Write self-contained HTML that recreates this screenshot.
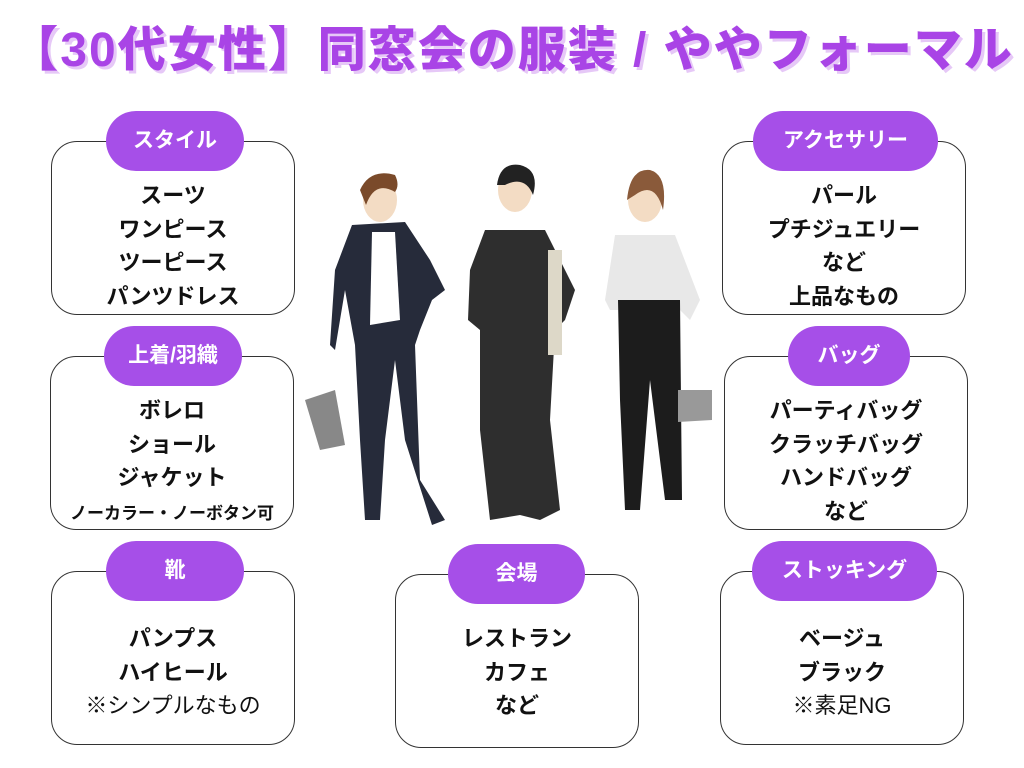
<!DOCTYPE html>
<html><head><meta charset="utf-8"><style>
body{margin:0;width:1024px;height:768px;background:#fff;position:relative;overflow:hidden;font-family:"Liberation Sans","Noto Sans CJK JP",sans-serif}
.t{position:absolute;left:0;width:1024px;top:10px;text-align:center;font-size:48px;font-weight:900;color:#a944e6;text-shadow:3px 3px 0 #e6c8f7;letter-spacing:2px}
.b{position:absolute;width:244px;height:174px;border:1.3px solid #333;border-radius:26px;box-sizing:border-box}
.p{position:absolute;height:60px;border-radius:30px;background:#a64fe8;color:#fff;font-weight:bold;font-size:21px;line-height:60px;text-align:center}
.x{position:absolute;width:244px;text-align:center;font-size:22px;font-weight:bold;line-height:33.5px;color:#111}
.n{font-weight:normal}
</style></head><body>
<div class="t">【30代女性】同窓会の服装 / ややフォーマル</div>

<div class="b" style="left:51px;top:141px"></div><div class="p" style="left:106px;top:111px;width:138px">スタイル</div>
<div class="x" style="left:51px;top:179px">スーツ<br>ワンピース<br>ツーピース<br>パンツドレス</div>

<div class="b" style="left:50px;top:356px"></div><div class="p" style="left:104px;top:326px;width:138px">上着/羽織</div>
<div class="x" style="left:50px;top:394px">ボレロ<br>ショール<br>ジャケット<br><span style="font-size:17px">ノーカラー・ノーボタン可</span></div>

<div class="b" style="left:51px;top:571px"></div><div class="p" style="left:106px;top:541px;width:138px">靴</div>
<div class="x" style="left:51px;top:622px">パンプス<br>ハイヒール<br><span class="n">※シンプルなもの</span></div>

<div class="b" style="left:395px;top:574px"></div><div class="p" style="left:448px;top:544px;width:137px">会場</div>
<div class="x" style="left:395px;top:622px">レストラン<br>カフェ<br>など</div>

<div class="b" style="left:722px;top:141px"></div><div class="p" style="left:753px;top:111px;width:185px">アクセサリー</div>
<div class="x" style="left:722px;top:179px">パール<br>プチジュエリー<br>など<br>上品なもの</div>

<div class="b" style="left:724px;top:356px"></div><div class="p" style="left:788px;top:326px;width:122px">バッグ</div>
<div class="x" style="left:724px;top:394px">パーティバッグ<br>クラッチバッグ<br>ハンドバッグ<br>など</div>

<div class="b" style="left:720px;top:571px"></div><div class="p" style="left:752px;top:541px;width:185px">ストッキング</div>
<div class="x" style="left:720px;top:622px">ベージュ<br>ブラック<br><span class="n">※素足NG</span></div>

<svg style="position:absolute;left:0;top:0" width="1024" height="768">
<ellipse cx="380" cy="200" rx="17" ry="22" fill="#f3dcc4"/>
<path d="M360 190 Q370 168 395 175 Q400 185 395 192 Q375 180 366 205Z" fill="#7a4a2a"/>
<path d="M352 225 L405 222 L430 260 L445 290 L432 300 L420 330 L415 345 L420 480 L445 520 L432 525 L405 440 L395 360 L385 440 L380 520 L365 520 L360 440 L355 345 L345 290 L335 350 L330 345 L335 270Z" fill="#262b3a"/>
<path d="M372 232 L395 232 L400 320 L370 325Z" fill="#fff"/>
<path d="M305 400 L335 390 L345 445 L320 450Z" fill="#888"/>
<ellipse cx="515" cy="190" rx="17" ry="22" fill="#f3dcc4"/>
<path d="M497 185 Q500 162 520 165 Q540 170 533 195 Q525 175 505 185Z" fill="#222"/>
<path d="M485 230 L545 230 L575 290 L565 320 L555 330 L550 420 L560 510 L540 520 L520 515 L490 520 L480 430 L480 330 L468 320 L470 270Z" fill="#2e2e2e"/>
<rect x="548" y="250" width="14" height="105" fill="#ddd8c8"/>
<ellipse cx="645" cy="200" rx="17" ry="22" fill="#f3dcc4"/>
<path d="M627 200 Q630 168 650 170 Q668 175 663 210 Q655 180 635 195Z" fill="#8a5a3a"/>
<path d="M615 235 L675 235 L700 300 L690 320 L680 310 L678 310 L610 310 L605 300Z" fill="#e8e8e8"/>
<path d="M618 300 L680 300 L682 500 L665 500 L650 380 L640 510 L625 510 L620 400Z" fill="#1c1c1c"/>
<path d="M678 390 L712 390 L712 420 L678 422Z" fill="#999"/>
</svg>
</body></html>
